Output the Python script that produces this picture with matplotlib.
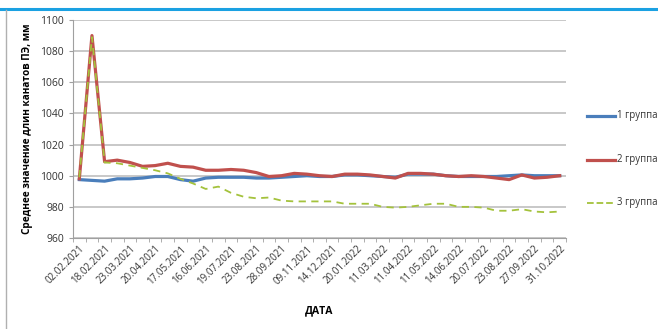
import numpy as np
import matplotlib.pyplot as plt
from matplotlib.lines import Line2D

plt.rcParams['font.family'] = ['Open Sans', 'DejaVu Sans']

# dates shown on the axis (every second measurement)
date_labels = ['02.02.2021', '18.02.2021', '23.03.2021', '20.04.2021', '17.05.2021',
               '16.06.2021', '19.07.2021', '23.08.2021', '28.09.2021', '09.11.2021',
               '14.12.2021', '20.01.2022', '11.03.2022', '11.04.2022', '11.05.2022',
               '14.06.2022', '20.07.2022', '23.08.2022', '27.09.2022', '31.10.2022']

group1 = [997.5, 997, 996.5, 998, 998, 998.5, 999.5, 999.5, 997.5, 996.5,
          998.5, 999, 999, 999, 998.5, 998.5, 999, 999.5, 1000, 999.5,
          999.5, 1000.5, 1000.5, 1000, 999.5, 999, 1001, 1001, 1001, 1000,
          999.5, 999.5, 999.5, 999.5, 1000, 1000.5, 1000, 1000, 1000]
group2 = [998, 1090, 1009, 1010, 1008.5, 1006, 1006.5, 1008, 1006, 1005.5,
          1003.5, 1003.5, 1004, 1003.5, 1002, 999.5, 1000, 1001.5, 1001, 1000,
          999.5, 1001, 1001, 1000.5, 999.5, 998.5, 1001.5, 1001.5, 1001, 1000,
          999.5, 1000, 999.5, 998.5, 997.5, 1000.5, 998.5, 999, 1000]
group3 = [999, 1089, 1008.5, 1008, 1006.5, 1005, 1003.5, 1001.5, 998, 995,
          991.5, 993, 989, 986.5, 985.5, 986, 984, 983.5, 983.5, 983.5,
          983.5, 982, 982, 982, 980, 979.5, 980, 981, 982, 982,
          980, 980, 979.5, 977.5, 977.5, 978.5, 977, 976.5, 977]

fig = plt.figure(figsize=(6.58, 3.29), dpi=100)
ax = fig.add_axes([73 / 658, 1 - 238 / 329, 493 / 658, 218 / 329])

x = np.arange(len(group1))
ax.plot(x, group1, color='#4a7ebb', lw=2.3, label='1 группа', zorder=3)
ax.plot(x, group2, color='#c0504d', lw=2.3, label='2 группа', zorder=4)
ax.plot(x, group3, color='#a4c23c', lw=1.3, ls=(0, (4, 3)), label='3 группа', zorder=5)

ax.set_xlim(-0.5, len(x) - 0.5)
ax.set_ylim(960, 1100)
ax.set_yticks(np.arange(960, 1101, 20))
ax.yaxis.grid(True, color='#c4c4c4', lw=1.3)
ax.set_axisbelow(True)

ax.set_xticks(x[::2])
ax.set_xticklabels(date_labels, rotation=45, ha='right', va='top',
                   rotation_mode='anchor', fontsize=7, color='#333333')
ax.set_xticks(np.arange(-0.5, len(x)), minor=True)
ax.tick_params(axis='x', which='major', length=0, pad=4)
ax.tick_params(axis='x', which='minor', length=3, color='#a0a0a0')
ax.tick_params(axis='y', length=3, color='#a0a0a0', labelsize=7.5, labelcolor='#333333')

for s in ['top', 'right']:
    ax.spines[s].set_visible(False)
for s in ['left', 'bottom']:
    ax.spines[s].set_color('#a0a0a0')

ax.set_ylabel('Среднее значение длин канатов ПЭ, мм', fontsize=7.2,
              fontweight='bold', labelpad=5)
fig.text(319 / 658, 1 - 311 / 329, 'ДАТА', fontsize=7.5, fontweight='bold',
         ha='center', va='center')

# legend to the right of the plot
handles = [Line2D([], [], color='#4a7ebb', lw=2.3),
           Line2D([], [], color='#c0504d', lw=2.3),
           Line2D([], [], color='#a4c23c', lw=1.3, ls=(0, (4, 3)))]
names = ['1 группа', '2 группа', '3 группа']
for i, (h, n) in enumerate(zip(handles, names)):
    yy = 1 - (116 + 43.5 * i) / 329
    fig.add_artist(Line2D([587 / 658, 615 / 658], [yy, yy], color=h.get_color(),
                          lw=h.get_linewidth(), ls=h.get_linestyle()))
    fig.text(617 / 658, yy, n, fontsize=6.9, va='center', ha='left', color='#333333')

# page frame lines
fig.add_artist(Line2D([0, 1], [1 - 9 / 329, 1 - 9 / 329], color='#1ba1e2', lw=2.2))
fig.add_artist(Line2D([6 / 658, 6 / 658], [0, 1 - 10 / 329], color='#b0b0b0', lw=1))

fig.savefig('out.png', dpi=100)
